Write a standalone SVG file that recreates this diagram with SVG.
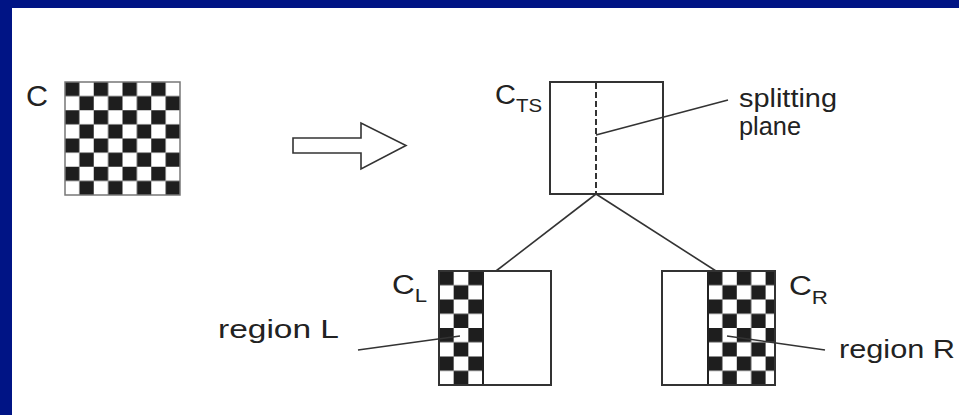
<svg xmlns="http://www.w3.org/2000/svg" width="959" height="415" viewBox="0 0 959 415">
  <style>
    .frame { fill: none; stroke: #333; stroke-width: 2; }
    .line { fill: none; stroke: #333; stroke-width: 1.6; }
    .lbl { font-family: "Liberation Sans", Arial, sans-serif; fill: #222; }
  </style>
  <defs>
    <!-- 2x2 checker tiles, black in the top-left cell -->
    <pattern id="chkC" patternUnits="userSpaceOnUse" x="65" y="82" width="28.75" height="28.25">
      <rect width="28.75" height="28.25" fill="#fff"/>
      <rect width="14.375" height="14.125" fill="#1e1e1e"/>
      <rect x="14.375" y="14.125" width="14.375" height="14.125" fill="#1e1e1e"/>
    </pattern>
    <pattern id="chkL" patternUnits="userSpaceOnUse" x="439" y="271" width="29.33" height="28.5">
      <rect width="29.33" height="28.5" fill="#fff"/>
      <rect width="14.67" height="14.25" fill="#1e1e1e"/>
      <rect x="14.67" y="14.25" width="14.67" height="14.25" fill="#1e1e1e"/>
    </pattern>
    <pattern id="chkR" patternUnits="userSpaceOnUse" x="708" y="271" width="28.8" height="28.5">
      <rect width="28.8" height="28.5" fill="#fff"/>
      <rect width="14.4" height="14.25" fill="#1e1e1e"/>
      <rect x="14.4" y="14.25" width="14.4" height="14.25" fill="#1e1e1e"/>
    </pattern>
  </defs>

  <!-- slide frame -->
  <rect width="959" height="415" fill="#001485"/>
  <rect x="12" y="8" width="947" height="407" fill="#fff"/>

  <!-- original cell C -->
  <g id="cell-c">
    <rect x="65" y="82" width="115" height="113" fill="url(#chkC)" stroke="#777" stroke-width="1.5"/>
    <text class="lbl" x="26" y="106" font-size="30" textLength="22" lengthAdjust="spacingAndGlyphs">C</text>
  </g>

  <!-- transition arrow -->
  <g id="arrow">
    <polygon points="293,138 361,138 361,123 406,145.5 361,169 361,153 293,153" fill="#fff" stroke="#333" stroke-width="1.6"/>
  </g>

  <!-- tree-split cell with splitting plane -->
  <g id="cell-cts">
    <rect class="frame" x="550" y="82" width="113" height="112" fill="#fff"/>
    <line x1="596" y1="83" x2="596" y2="193" stroke="#333" stroke-width="2" stroke-dasharray="6,3"/>
    <text class="lbl" x="495" y="104" font-size="27" textLength="47" lengthAdjust="spacingAndGlyphs">C<tspan font-size="19" dy="8">TS</tspan></text>
  </g>

  <!-- splitting plane label -->
  <g id="label-plane">
    <text class="lbl" x="739" y="107" font-size="26" textLength="98" lengthAdjust="spacingAndGlyphs">splitting</text>
    <text class="lbl" x="739" y="135" font-size="26" textLength="62" lengthAdjust="spacingAndGlyphs">plane</text>
  </g>

  <!-- left child C_L -->
  <g id="cell-cl">
    <rect x="439" y="271" width="44" height="114" fill="url(#chkL)"/>
    <rect x="483" y="271" width="68" height="114" fill="#fff"/>
    <line x1="483" y1="271" x2="483" y2="385" stroke="#222" stroke-width="2"/>
    <rect class="frame" x="439" y="271" width="112" height="114"/>
    <text class="lbl" x="392" y="294" font-size="27" textLength="35" lengthAdjust="spacingAndGlyphs">C<tspan font-size="19" dy="8">L</tspan></text>
  </g>

  <!-- right child C_R -->
  <g id="cell-cr">
    <rect x="662" y="271" width="46" height="114" fill="#fff"/>
    <rect x="708" y="271" width="67" height="114" fill="url(#chkR)"/>
    <line x1="708" y1="271" x2="708" y2="385" stroke="#222" stroke-width="2"/>
    <rect class="frame" x="662" y="271" width="113" height="114"/>
    <text class="lbl" x="789" y="295" font-size="27" textLength="39" lengthAdjust="spacingAndGlyphs">C<tspan font-size="19" dy="9">R</tspan></text>
  </g>

  <!-- region labels -->
  <g id="label-regions">
    <text class="lbl" x="218" y="338" font-size="26" textLength="121" lengthAdjust="spacingAndGlyphs">region L</text>
    <text class="lbl" x="839" y="358" font-size="26" textLength="116" lengthAdjust="spacingAndGlyphs">region R</text>
  </g>

  <!-- connectors: tree edges and label leaders, drawn over the cells -->
  <g id="connectors">
    <line class="line" x1="596" y1="194" x2="496" y2="271"/>
    <line class="line" x1="596" y1="194" x2="716" y2="271"/>
    <line class="line" x1="596" y1="135" x2="728" y2="100"/>
    <line class="line" x1="358" y1="350" x2="460" y2="336"/>
    <line class="line" x1="727" y1="336" x2="825" y2="350"/>
  </g>
</svg>
